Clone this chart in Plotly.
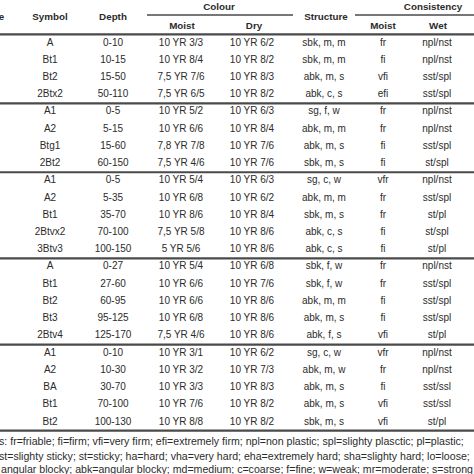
import plotly.graph_objects as go

# ---------------- data ----------------
symbols = ["A", "Bt1", "Bt2", "2Btx2",
           "A1", "A2", "Btg1", "2Bt2",
           "A1", "A2", "Bt1", "2Btvx2", "3Btv3",
           "A", "Bt1", "Bt2", "Bt3", "2Btv4",
           "A1", "A2", "BA", "Bt1", "Bt2"]
depths = ["0-10", "10-15", "15-50", "50-110",
          "0-5", "5-15", "15-60", "60-150",
          "0-5", "5-35", "35-70", "70-100", "100-150",
          "0-27", "27-60", "60-95", "95-125", "125-170",
          "0-10", "10-30", "30-70", "70-100", "100-130"]
colour_moist = ["10 YR 3/3", "10 YR 8/4", "7,5 YR 7/6", "7,5 YR 6/5",
                "10 YR 5/2", "10 YR 6/6", "7,8 YR 7/8", "7,5 YR 4/6",
                "10 YR 5/4", "10 YR 6/8", "10 YR 8/6", "7,5 YR 5/8", "5 YR 5/6",
                "10 YR 5/4", "10 YR 6/6", "10 YR 6/6", "10 YR 6/8", "7,5 YR 4/6",
                "10 YR 3/1", "10 YR 3/2", "10 YR 3/3", "10 YR 7/6", "10 YR 8/8"]
colour_dry = ["10 YR 6/2", "10 YR 8/2", "10 YR 8/3", "10 YR 8/2",
              "10 YR 6/3", "10 YR 8/4", "10 YR 7/6", "10 YR 7/6",
              "10 YR 6/3", "10 YR 6/2", "10 YR 8/4", "10 YR 8/6", "10 YR 8/6",
              "10 YR 6/8", "10 YR 7/6", "10 YR 8/6", "10 YR 8/6", "10 YR 8/6",
              "10 YR 6/2", "10 YR 7/3", "10 YR 8/3", "10 YR 8/2", "10 YR 8/2"]
structure = ["sbk, m, m", "sbk, m, m", "abk, m, s", "abk, c, s",
             "sg, f, w", "abk, m, m", "abk, m, s", "sbk, m, s",
             "sg, c, w", "abk, m, m", "sbk, m, s", "abk, c, s", "abk, c, s",
             "sbk, f, w", "sbk, f, w", "abk, m, m", "abk, m, s", "abk, f, s",
             "sg, c, w", "abk, m, w", "abk, m, s", "abk, m, s", "sbk, m, s"]
consistency_moist = ["fr", "fi", "vfi", "efi",
                     "fr", "fr", "fi", "fi",
                     "vfr", "fr", "fr", "fi", "fi",
                     "fr", "fr", "fi", "fi", "vfi",
                     "vfr", "fr", "fi", "vfi", "vfi"]
consistency_wet = ["npl/nst", "npl/nst", "sst/spl", "sst/spl",
                   "npl/nst", "npl/nst", "sst/spl", "st/spl",
                   "npl/nst", "sst/spl", "st/pl", "st/spl", "st/pl",
                   "npl/nst", "sst/spl", "sst/spl", "sst/spl", "st/pl",
                   "npl/nst", "npl/nst", "sst/ssl", "sst/ssl", "st/pl"]
group_sizes = [4, 4, 5, 5, 5]

header_labels = ["Profile", "Symbol", "Depth", "Colour", "Moist", "Dry",
                 "Structure", "Consistency", "Moist", "Wet"]

footnotes = [
    "s: fr=friable; fi=firm; vfi=very firm; efi=extremely firm; npl=non plastic; spl=slighty plasctic; pl=plastic;",
    "st=slighty sticky; st=sticky; ha=hard; vha=very hard; eha=extremely hard; sha=slighty hard; lo=loose;",
    "angular blocky; abk=angular blocky; md=medium; c=coarse; f=fine; w=weak; mr=moderate; s=strong",
]

# ---------------- layout constants ----------------
W = H = 474
ROW0_PX, ROW_PX = 43.0, 17.23          # pixel y of first data row, row pitch
y_top = -ROW0_PX / ROW_PX
y_bot = (H - ROW0_PX) / ROW_PX

def py(pixel_y):
    return (pixel_y - ROW0_PX) / ROW_PX

COL_X = {"profile": -11, "symbol": 50, "depth": 113, "moist": 181, "dry": 252,
         "structure": 324, "cmoist": 383, "wet": 437}

TEXT_COLOR = "#2b2b2b"
LINE_COLOR = "#4a4a4a"
BODY_FONT = "Liberation Sans, Arial"
NOTE_FONT = "Liberation Sans, Arial"
BODY_SIZE = 10
HDR_SIZE = 9.8

n = len(symbols)
rows = list(range(n))

fig = go.Figure()

def add_col(key, values):
    fig.add_trace(go.Scatter(
        x=[COL_X[key]] * len(values), y=rows, text=values, mode="text",
        textposition="middle center",
        textfont=dict(family=BODY_FONT, size=BODY_SIZE, color=TEXT_COLOR),
        hoverinfo="skip", showlegend=False, cliponaxis=True))

add_col("symbol", symbols)
add_col("depth", depths)
add_col("moist", colour_moist)
add_col("dry", colour_dry)
add_col("structure", structure)
add_col("cmoist", consistency_moist)
add_col("wet", consistency_wet)

# headers
hdr_x = [COL_X["profile"], COL_X["symbol"], COL_X["depth"], 219, COL_X["moist"] + 1,
         COL_X["dry"] + 2, COL_X["structure"] + 2, 433, COL_X["cmoist"], COL_X["wet"] + 1]
hdr_y = [py(18), py(18), py(18), py(8), py(27), py(27), py(18), py(8), py(27), py(27)]
fig.add_trace(go.Scatter(
    x=hdr_x, y=hdr_y, text=["<b>%s</b>" % t for t in header_labels], mode="text",
    textposition="middle center",
    textfont=dict(family=BODY_FONT, size=HDR_SIZE, color=TEXT_COLOR),
    hoverinfo="skip", showlegend=False, cliponaxis=True))

# footnotes
fig.add_trace(go.Scatter(
    x=[-1, -1, 1], y=[py(442), py(457), py(470)], text=footnotes, mode="text",
    textposition="middle right",
    textfont=dict(family=NOTE_FONT, size=10.6, color=TEXT_COLOR),
    hoverinfo="skip", showlegend=False, cliponaxis=True))

# rules
shapes = []
def hline(y, x0=0, x1=W, width=2.2):
    shapes.append(dict(type="line", xref="x", yref="y", x0=x0, x1=x1, y0=y, y1=y,
                       line=dict(color=LINE_COLOR, width=width)))

hline(py(15), 147, 293, 1.4)
hline(py(15), 355, W + 5, 1.4)
hline(-0.5)
acc = 0
for g in group_sizes:
    acc += g
    hline(acc - 0.5)

fig.update_layout(
    width=W, height=H, margin=dict(l=0, r=0, t=0, b=0),
    paper_bgcolor="white", plot_bgcolor="white",
    xaxis=dict(range=[0, W], visible=False, fixedrange=True),
    yaxis=dict(range=[y_bot, y_top], visible=False, fixedrange=True),
    shapes=shapes,
)

fig.write_html("out.html", config={"displayModeBar": False},
               post_script="document.body.style.margin='0px';document.body.style.overflow='hidden';")
